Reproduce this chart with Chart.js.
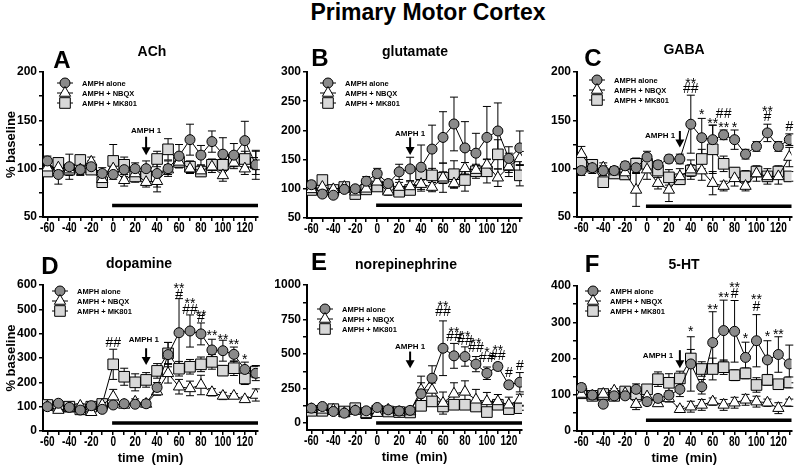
<!DOCTYPE html>
<html>
<head>
<meta charset="utf-8">
<script src="https://cdn.jsdelivr.net/npm/chart.js@4"></script>
<style>
body { margin: 0; background: #fff; width: 800px; height: 468px; position: relative; overflow: hidden; font-family: "Liberation Sans", Arial, sans-serif; }
#title { position: absolute; left: 0; top: -1px; width: 856px; text-align: center; font-weight: bold; font-size: 23px; }
canvas { position: absolute; left: 0; top: 0; }
</style>
</head>
<body>
<div id="title">Primary Motor Cortex</div>
<canvas id="cA" width="800" height="468"></canvas>
<canvas id="cB" width="800" height="468"></canvas>
<canvas id="cC" width="800" height="468"></canvas>
<canvas id="cD" width="800" height="468"></canvas>
<canvas id="cE" width="800" height="468"></canvas>
<canvas id="cF" width="800" height="468"></canvas>
<script>
// time points (min) and tick labels
const times = [-60, -50, -40, -30, -20, -10, 0, 10, 20, 30, 40, 50, 60, 70, 80, 90, 100, 110, 120, 130];
const xTicks = [-60, -40, -20, 0, 20, 40, 60, 80, 100, 120];
const seriesNames = ['AMPH alone', 'AMPH + NBQX', 'AMPH + MK801'];

// A - ACh
const achAlone = [108, 94, 102, 99, 102, 95, 94, 99, 100, 100, 95, 100, 113, 130, 114, 128, 115, 114, 129, 104];
const achAloneErr = [5, 10, 13, 6, 6, 6, 5, 7, 6, 8, 19, 8, 12, 16, 10, 11, 17, 12, 20, 15];
const achNbqx = [101, 101, 99, 99, 107, 89, 100, 88, 95, 86, 87, 99, 107, 100, 98, 102, 93, 106, 100, 104];
const achNbqxErr = [5, 5, 5, 5, 5, 5, 5, 6, 5, 5, 6, 5, 6, 5, 5, 6, 6, 6, 6, 5];
const achMk = [97, 106, 99, 109, 99, 86, 108, 104, 92, 92, 110, 120, 107, 102, 97, 104, 104, 109, 110, 106];
const achMkErr = [5, 5, 6, 5, 5, 4, 17, 8, 6, 5, 8, 11, 6, 6, 5, 6, 6, 6, 8, 12];

// B - glutamate
const gluAlone = [107, 91, 89, 99, 100, 113, 126, 109, 129, 134, 137, 168, 188, 211, 170, 161, 188, 199, 152, 170];
const gluAloneErr = [6, 5, 5, 5, 5, 8, 9, 6, 13, 20, 38, 41, 44, 46, 45, 34, 53, 48, 20, 29];
const gluNbqx = [99, 103, 99, 103, 95, 100, 112, 95, 103, 104, 108, 103, 119, 109, 135, 132, 141, 119, 138, 152];
const gluNbqxErr = [5, 5, 5, 5, 5, 6, 8, 6, 8, 8, 12, 8, 10, 8, 10, 8, 10, 15, 10, 12];
const gluMk = [98, 115, 98, 103, 91, 99, 104, 100, 95, 98, 125, 123, 119, 125, 115, 130, 130, 159, 141, 123];
const gluMkErr = [5, 7, 5, 5, 6, 5, 6, 5, 6, 6, 10, 12, 25, 23, 19, 12, 20, 25, 20, 18];

// C - GABA
const gabaAlone = [98, 101, 98, 98, 103, 101, 112, 104, 110, 110, 146, 132, 130, 135, 130, 115, 123, 137, 123, 130];
const gabaAloneErr = [5, 4, 5, 4, 4, 5, 6, 4, 4, 5, 30, 20, 15, 5, 10, 5, 5, 9, 5, 6];
const gabaNbqx = [115, 100, 101, 97, 96, 78, 99, 85, 78, 92, 99, 98, 85, 82, 90, 82, 95, 92, 92, 112];
const gabaNbqxErr = [8, 5, 5, 5, 5, 17, 10, 6, 12, 8, 10, 10, 12, 5, 8, 5, 8, 8, 8, 10];
const gabaMk = [107, 104, 86, 95, 94, 105, 105, 98, 91, 89, 98, 110, 120, 105, 96, 92, 97, 92, 97, 92];
const gabaMkErr = [8, 5, 5, 5, 5, 6, 8, 5, 8, 5, 6, 10, 25, 8, 5, 6, 5, 5, 6, 5];

// D - dopamine
const daAlone = [100, 114, 97, 86, 104, 89, 107, 112, 110, 112, 179, 314, 404, 411, 399, 333, 330, 315, 253, 237];
const daAloneErr = [10, 10, 8, 8, 10, 8, 10, 10, 10, 15, 20, 50, 140, 66, 45, 44, 43, 30, 30, 30];
const daNbqx = [100, 86, 93, 103, 77, 107, 141, 107, 120, 111, 162, 237, 182, 175, 189, 159, 144, 144, 130, 148];
const daNbqxErr = [8, 8, 8, 8, 8, 10, 30, 10, 12, 10, 15, 40, 30, 30, 40, 15, 15, 10, 10, 25];
const daMk = [107, 100, 100, 89, 100, 111, 274, 223, 200, 210, 247, 319, 256, 264, 274, 284, 248, 258, 216, 244];
const daMkErr = [10, 8, 8, 8, 8, 10, 62, 35, 35, 30, 30, 45, 30, 30, 30, 30, 20, 30, 25, 25];

// E - norepinephrine
const neAlone = [108, 120, 84, 72, 92, 89, 113, 96, 87, 92, 212, 325, 542, 487, 482, 427, 361, 410, 277, 296];
const neAloneErr = [15, 10, 10, 10, 10, 10, 15, 10, 10, 10, 80, 90, 198, 90, 70, 55, 45, 25, 20, 70];
const neNbqx = [100, 96, 96, 72, 87, 65, 72, 96, 80, 84, 240, 240, 145, 212, 226, 169, 157, 157, 133, 169];
const neNbqxErr = [15, 10, 10, 10, 10, 10, 10, 10, 10, 10, 100, 50, 80, 80, 80, 75, 65, 50, 55, 40];
const neMk = [89, 89, 101, 84, 108, 72, 89, 84, 80, 77, 125, 157, 120, 133, 133, 120, 80, 133, 101, 108];
const neMkErr = [15, 10, 10, 10, 10, 10, 10, 10, 10, 10, 15, 20, 30, 15, 15, 15, 15, 15, 15, 15];

// F - 5-HT
const htAlone = [120, 99, 74, 97, 97, 115, 81, 90, 99, 115, 185, 122, 244, 277, 275, 203, 249, 196, 211, 185];
const htAloneErr = [10, 8, 8, 8, 8, 15, 10, 10, 12, 20, 75, 20, 85, 84, 85, 42, 72, 53, 49, 52];
const htNbqx = [102, 97, 102, 111, 104, 74, 95, 76, 90, 60, 67, 72, 81, 72, 78, 86, 81, 78, 63, 78];
const htNbqxErr = [8, 6, 6, 6, 6, 15, 10, 8, 10, 8, 15, 15, 10, 15, 15, 15, 15, 10, 15, 10];
const htMk = [104, 97, 102, 97, 109, 101, 115, 143, 133, 145, 200, 171, 171, 176, 154, 159, 127, 141, 129, 134];
const htMkErr = [8, 6, 6, 6, 8, 10, 10, 20, 25, 20, 25, 20, 30, 20, 15, 15, 20, 15, 10, 15];

// significance marks: [time, value, text]
const gabaMarks = [[40, 192, '**'], [40, 182, '##'], [50, 159, '*'], [60, 150, '**'], [70, 156, '##'], [70, 146, '**'], [80, 146, '*'], [110, 163, '**'], [110, 153, '#'], [130, 143, '#']];
const daMarks = [[0, 363, '##'], [60, 600, '**'], [60, 559, '#'], [70, 538, '**'], [70, 497, '##'], [80, 490, '**'], [80, 463, '#'], [90, 408, '**'], [100, 390, '**'], [110, 371, '**'], [120, 308, '*']];
const neMarks = [[60, 867, '**'], [60, 807, '##'], [70, 682, '**'], [70, 619, '##'], [80, 651, '**'], [80, 595, '##'], [90, 598, '**'], [90, 542, '##'], [100, 535, '*'], [100, 470, '##'], [110, 549, '**'], [110, 487, '##'], [120, 361, '#'], [130, 410, '#']];
const htMarks = [[40, 283, '*'], [60, 345, '**'], [70, 377, '**'], [80, 405, '**'], [80, 377, '#'], [90, 265, '*'], [100, 371, '**'], [100, 343, '#'], [110, 271, '*'], [120, 276, '**']];

// AMPH arrow: [time, top value, bottom value, label time, label value]
const achArrow = [30, 133, 114, 30, 139];
const gluArrow = [30, 188, 158, 30, 195];
const gabaArrow = [30, 139, 122, 12, 134];
const daArrow = [30, 340, 271, 28, 374];
const neArrow = [30, 518, 398, 30, 554];
const htArrow = [30, 223, 173, 10, 207];

// treatment bar level (value) from time 0 to end
const barLevels = [62, 72, 61, 33, 0, 30];

const pointStyles = ['circle', 'triangle', 'rect'];
const pointSizes = [5, 6.5, 7.5];
const pointFills = ['#8a8a8a', '#ffffff', '#d8d8d8'];

Chart.defaults.font.family = '"Liberation Sans", Arial, sans-serif';
Chart.defaults.color = '#000';

const extras = {
  id: 'extras',
  beforeDatasetsDraw(chart, args, o) {
    const ctx = chart.ctx, xs = chart.scales.x, ys = chart.scales.y;
    ctx.save();
    ctx.strokeStyle = '#000';
    ctx.lineWidth = 1;
    chart.data.datasets.forEach(ds => {
      ds.data.forEach((p, i) => {
        const e = ds.errs[i];
        const px = xs.getPixelForValue(p.x);
        const y1 = ys.getPixelForValue(p.y + e), y2 = ys.getPixelForValue(p.y - e);
        ctx.beginPath();
        ctx.moveTo(px, y1); ctx.lineTo(px, y2);
        ctx.moveTo(px - 4, y1); ctx.lineTo(px + 4, y1);
        ctx.moveTo(px - 4, y2); ctx.lineTo(px + 4, y2);
        ctx.stroke();
      });
    });
    ctx.restore();
  },
  afterDatasetsDraw(chart, args, o) {
    const ctx = chart.ctx, xs = chart.scales.x, ys = chart.scales.y, ca = chart.chartArea;
    ctx.save();
    // treatment bar
    ctx.strokeStyle = '#000';
    ctx.lineWidth = 3.5;
    ctx.beginPath();
    ctx.moveTo(xs.getPixelForValue(-1), ys.getPixelForValue(o.bar));
    ctx.lineTo(ca.right, ys.getPixelForValue(o.bar));
    ctx.stroke();
    // arrow
    const a = o.arrow;
    const ax = xs.getPixelForValue(a[0]), at = ys.getPixelForValue(a[1]), ab = ys.getPixelForValue(a[2]);
    ctx.lineWidth = 2;
    ctx.beginPath(); ctx.moveTo(ax, at); ctx.lineTo(ax, ab - 6); ctx.stroke();
    ctx.fillStyle = '#000';
    ctx.beginPath(); ctx.moveTo(ax - 4.5, ab - 8); ctx.lineTo(ax + 4.5, ab - 8); ctx.lineTo(ax, ab); ctx.closePath(); ctx.fill();
    ctx.font = 'bold 8px "Liberation Sans", Arial';
    ctx.textAlign = 'center'; ctx.textBaseline = 'middle';
    ctx.fillText('AMPH 1', xs.getPixelForValue(a[3]), ys.getPixelForValue(a[4]));
    // significance marks
    ctx.font = '14px "Liberation Sans", Arial';
    (o.marks || []).forEach(m => {
      const shift = m[2].indexOf('*') >= 0 ? 4 : 0;
      ctx.fillText(m[2], xs.getPixelForValue(m[0]), ys.getPixelForValue(m[1]) + shift);
    });
    // x tick labels, narrow like the original figure
    ctx.font = 'bold 14px "Liberation Sans", Arial';
    ctx.textBaseline = 'alphabetic';
    xTicks.forEach(v => {
      ctx.save();
      ctx.translate(xs.getPixelForValue(v), ca.bottom + 15);
      ctx.scale(0.72, 1);
      ctx.fillText(String(v), 0, 0);
      ctx.restore();
    });
    ctx.textBaseline = 'middle';
    // legend
    ctx.font = 'bold 7.5px "Liberation Sans", Arial';
    ctx.textAlign = 'left';
    seriesNames.forEach((name, i) => {
      const lx = ca.left + o.legend[0], ly = ca.top + o.legend[1] + i * 10;
      ctx.strokeStyle = '#000'; ctx.lineWidth = 1;
      ctx.beginPath(); ctx.moveTo(lx - 8, ly); ctx.lineTo(lx + 8, ly); ctx.stroke();
      ctx.fillStyle = pointFills[i];
      Chart.helpers.drawPoint(ctx, { pointStyle: pointStyles[i], radius: pointSizes[i], borderWidth: 1, rotation: 0 }, lx, ly);
      ctx.fillStyle = '#000';
      ctx.fillText(name, lx + 17, ly + 0.5);
    });
    // panel letter and title
    ctx.textAlign = 'center';
    ctx.font = 'bold 24px "Liberation Sans", Arial';
    ctx.fillText(o.letter, ca.left + o.letterPos[0], ca.top + o.letterPos[1]);
    ctx.font = 'bold 14px "Liberation Sans", Arial';
    ctx.fillText(o.title, ca.left + o.titlePos[0], ca.top + o.titlePos[1]);
    ctx.restore();
  }
};

function withMinor(major) {
  // major ticks plus a tick half way between each pair
  const out = [];
  major.forEach((v, i) => {
    out.push(v);
    if (i < major.length - 1) out.push((v + major[i + 1]) / 2);
  });
  return out;
}

function makePanel(p) {
  const series = [[p.alone, p.aloneErr], [p.nbqx, p.nbqxErr], [p.mk, p.mkErr]];
  const xHeight = 36, yWidth = 43;
  new Chart(document.getElementById(p.id), {
    type: 'line',
    data: {
      datasets: series.map((s, i) => ({
        label: seriesNames[i],
        data: times.map((t, j) => ({ x: t, y: s[0][j] })),
        errs: s[1],
        borderColor: '#000',
        borderWidth: 1,
        pointStyle: pointStyles[i],
        pointRadius: pointSizes[i],
        pointBackgroundColor: pointFills[i],
        pointBorderColor: '#000',
        pointBorderWidth: 1,
        tension: 0
      }))
    },
    options: {
      responsive: false,
      animation: false,
      devicePixelRatio: 1,
      layout: { padding: { left: p.left - yWidth, top: p.top, right: 800 - p.left - 215, bottom: 468 - p.bottom - xHeight } },
      plugins: {
        legend: { display: false },
        tooltip: { enabled: false },
        extras: { bar: p.bar, arrow: p.arrow, marks: p.marks, legend: p.legendPos, letter: p.letter, letterPos: p.letterPos, title: p.title, titlePos: p.titlePos }
      },
      scales: {
        x: {
          type: 'linear', min: -64, max: 132,
          afterBuildTicks: s => { s.ticks = withMinor(xTicks).concat([130]).map(v => ({ value: v })); },
          afterFit: s => { s.height = xHeight; s.paddingLeft = 0; s.paddingRight = 0; },
          ticks: { display: false },
          grid: { drawOnChartArea: false, tickLength: 4, color: '#000', lineWidth: 1.5 },
          border: { color: '#000', width: 2 },
          title: { display: p.xTitle, text: 'time  (min)', font: { size: 13, weight: 'bold' }, color: '#000', padding: { top: 0, bottom: 1 } }
        },
        y: {
          min: p.yMin, max: p.yMax,
          afterBuildTicks: s => { s.ticks = withMinor(p.yTicks).map(v => ({ value: v })); },
          afterFit: s => { s.width = yWidth; },
          ticks: { font: { size: 12, weight: 'bold' }, color: '#000', padding: 2,
            callback: v => p.yTicks.includes(v) ? String(v) : '' },
          grid: { drawOnChartArea: false, tickLength: 4, color: '#000', lineWidth: 1.5 },
          border: { color: '#000', width: 2 },
          title: { display: p.yTitle, text: '% baseline', font: { size: 13, weight: 'bold' }, color: '#000', padding: { top: 4, bottom: 0 } }
        }
      }
    },
    plugins: [extras]
  });
}

makePanel({ id: 'cA', left: 43, top: 72, bottom: 217, yMin: 50, yMax: 200, yTicks: [50, 100, 150, 200],
  alone: achAlone, aloneErr: achAloneErr, nbqx: achNbqx, nbqxErr: achNbqxErr, mk: achMk, mkErr: achMkErr,
  bar: barLevels[0], arrow: achArrow, marks: [], legendPos: [22, 11], letter: 'A', letterPos: [19, -11], title: 'ACh', titlePos: [109, -20], yTitle: true, xTitle: false });
makePanel({ id: 'cB', left: 307, top: 72, bottom: 218, yMin: 50, yMax: 300, yTicks: [50, 100, 150, 200, 250, 300],
  alone: gluAlone, aloneErr: gluAloneErr, nbqx: gluNbqx, nbqxErr: gluNbqxErr, mk: gluMk, mkErr: gluMkErr,
  bar: barLevels[1], arrow: gluArrow, marks: [], legendPos: [21, 11], letter: 'B', letterPos: [13, -13], title: 'glutamate', titlePos: [108, -20], yTitle: false, xTitle: false });
makePanel({ id: 'cC', left: 577, top: 72, bottom: 217, yMin: 50, yMax: 200, yTicks: [50, 100, 150, 200],
  alone: gabaAlone, aloneErr: gabaAloneErr, nbqx: gabaNbqx, nbqxErr: gabaNbqxErr, mk: gabaMk, mkErr: gabaMkErr,
  bar: barLevels[2], arrow: gabaArrow, marks: gabaMarks, legendPos: [20, 8], letter: 'C', letterPos: [16, -13], title: 'GABA', titlePos: [107, -22], yTitle: false, xTitle: false });
makePanel({ id: 'cD', left: 43, top: 285, bottom: 431, yMin: 0, yMax: 600, yTicks: [0, 100, 200, 300, 400, 500, 600],
  alone: daAlone, aloneErr: daAloneErr, nbqx: daNbqx, nbqxErr: daNbqxErr, mk: daMk, mkErr: daMkErr,
  bar: barLevels[3], arrow: daArrow, marks: daMarks, legendPos: [17, 6], letter: 'D', letterPos: [7, -18], title: 'dopamine', titlePos: [96, -21], yTitle: true, xTitle: true });
makePanel({ id: 'cE', left: 307, top: 285, bottom: 430, yMin: -50, yMax: 1000, yTicks: [0, 250, 500, 750, 1000],
  alone: neAlone, aloneErr: neAloneErr, nbqx: neNbqx, nbqxErr: neNbqxErr, mk: neMk, mkErr: neMkErr,
  bar: barLevels[4], arrow: neArrow, marks: neMarks, legendPos: [18, 24], letter: 'E', letterPos: [12, -22], title: 'norepinephrine', titlePos: [99, -20], yTitle: false, xTitle: true });
makePanel({ id: 'cF', left: 577, top: 286, bottom: 431, yMin: 0, yMax: 400, yTicks: [0, 100, 200, 300, 400],
  alone: htAlone, aloneErr: htAloneErr, nbqx: htNbqx, nbqxErr: htNbqxErr, mk: htMk, mkErr: htMkErr,
  bar: barLevels[5], arrow: htArrow, marks: htMarks, legendPos: [16, 5], letter: 'F', letterPos: [15, -21], title: '5-HT', titlePos: [107, -21], yTitle: false, xTitle: true });
</script>
</body>
</html>
